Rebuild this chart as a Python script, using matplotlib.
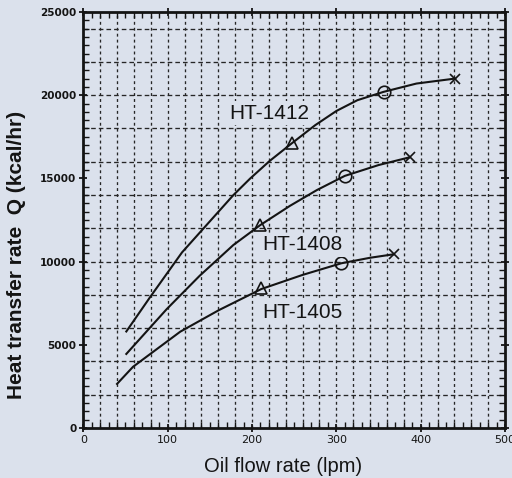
import matplotlib
matplotlib.use("Agg")
import matplotlib.pyplot as plt
from matplotlib.ticker import MultipleLocator

# ---- data ----
x_1412 = [51, 79, 117, 178, 198, 221, 247, 275, 300, 325, 356, 395, 441]
y_1412 = [5800, 7850, 10550, 14000, 15000, 16050, 17100, 18200, 19050, 19700, 20200, 20700, 21000]

x_1408 = [51, 99, 138, 178, 210, 245, 277, 310, 350, 387]
y_1408 = [4450, 7150, 9150, 11000, 12200, 13350, 14300, 15150, 15800, 16270]

x_1405 = [40, 59, 115, 161, 211, 260, 306, 340, 368]
y_1405 = [2650, 3680, 5790, 7090, 8350, 9200, 9900, 10230, 10440]

# marker points: triangle, circle, cross
tri_x = [247, 210, 211]
tri_y = [17110, 12200, 8395]
circ_x = [356, 310, 306]
circ_y = [20170, 15160, 9900]
cross_x = [441, 387, 368]
cross_y = [21000, 16270, 10440]

labels = ["HT-1412", "HT-1408", "HT-1405"]
label_x = [221, 260, 260]
label_y = [18930, 11000, 6970]

x_ticks = [0, 100, 200, 300, 400, 500]
y_ticks = [0, 5000, 10000, 15000, 20000, 25000]

bg = "#dbe1ec"
ink = "#141414"

fig = plt.figure(figsize=(5.12, 4.78), dpi=100, facecolor=bg)
ax = fig.add_axes([0.1627, 0.1046, 0.8236, 0.8703])
ax.set_facecolor(bg)

# grid
for gx in range(20, 500, 20):
    ax.axvline(gx, color="#262626", lw=0.95, dashes=(2.2, 2.3), zorder=1)
for gy in range(2000, 25000, 2000):
    ax.axhline(gy, color="#262626", lw=0.95, dashes=(3.5, 2.3), zorder=1)

for xs, ys in [(x_1412, y_1412), (x_1408, y_1408), (x_1405, y_1405)]:
    ax.plot(xs, ys, color=ink, lw=1.5, zorder=3)

ax.plot(tri_x, tri_y, ls="none", marker="^", ms=9, mfc="none", mec=ink, mew=1.2, zorder=4)
ax.plot(circ_x, circ_y, ls="none", marker="o", ms=9, mfc="none", mec=ink, mew=1.2, zorder=4)
ax.plot(cross_x, cross_y, ls="none", marker="x", ms=7, mfc="none", mec=ink, mew=1.2, zorder=4)

for t, lx, ly in zip(labels, label_x, label_y):
    ax.text(lx, ly, t, ha="center", va="center", fontsize=15, family="Liberation Sans",
            color=ink, zorder=5,
            bbox=dict(facecolor=bg, edgecolor="none", pad=1.5))

ax.set_xlim(0, 500)
ax.set_ylim(0, 25000)
ax.set_xticks(x_ticks)
ax.set_yticks(y_ticks)
ax.set_xticklabels([str(v) for v in x_ticks], fontsize=8, family="DejaVu Sans")
ax.set_yticklabels([str(v) for v in y_ticks], fontsize=7.5, fontweight="bold", family="DejaVu Sans")
ax.xaxis.set_minor_locator(MultipleLocator(10))
ax.yaxis.set_minor_locator(MultipleLocator(500))
ax.tick_params(which="major", direction="inout", length=6, width=1.3, colors=ink, pad=2,
               top=True, right=True)
ax.tick_params(which="minor", direction="in", length=4, width=1.0, colors=ink,
               top=True, right=True)

for s in ax.spines.values():
    s.set_linewidth(2)
    s.set_color(ink)

fig.text(283.5 / 512, 1 - 466 / 478, "Oil flow rate (lpm)", fontsize=14.5,
         family="Liberation Sans", color=ink, ha="center", va="center")
fig.text(17 / 512, 1 - 255 / 478, "Heat transfer rate  Q (kcal/hr)", fontsize=15,
         fontweight="bold", family="Liberation Sans", color=ink, ha="center", va="center",
         rotation=90)

fig.savefig("out.png", dpi=100, facecolor=bg)
